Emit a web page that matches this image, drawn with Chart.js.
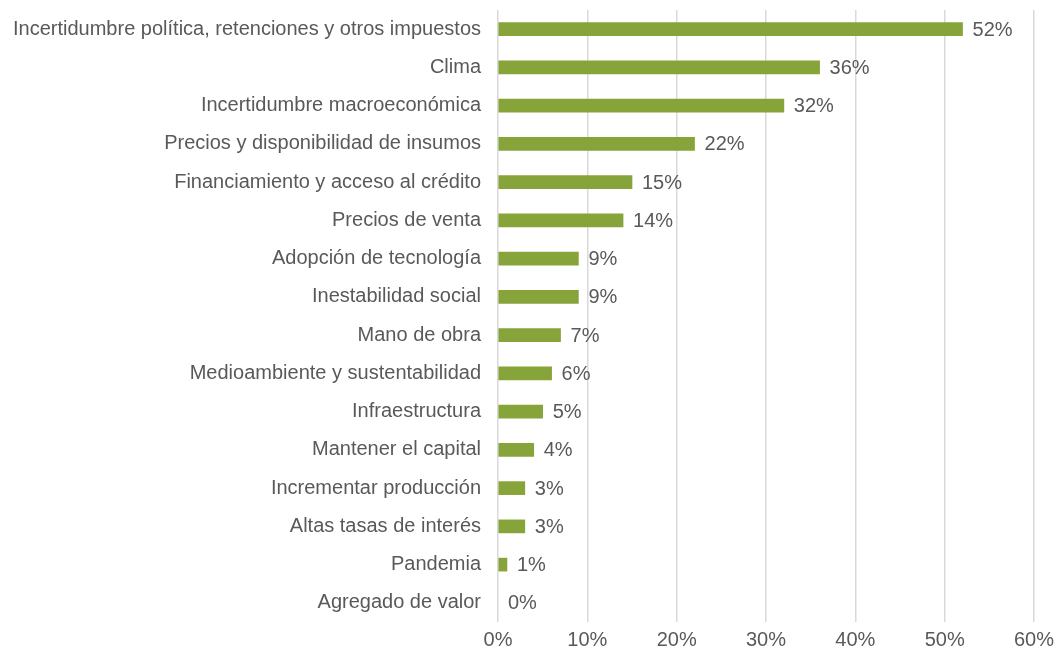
<!DOCTYPE html>
<html><head><meta charset="utf-8">
<script src="https://cdn.jsdelivr.net/npm/chart.js@4/dist/chart.umd.min.js"></script>
<style>html,body{margin:0;padding:0;background:#fff}#wrap{width:1058px;height:654px}</style>
</head><body><div id="wrap"><canvas id="c"></canvas></div>
<script>
const categories = [
  "Incertidumbre política, retenciones y otros impuestos",
  "Clima",
  "Incertidumbre macroeconómica",
  "Precios y disponibilidad de insumos",
  "Financiamiento y acceso al crédito",
  "Precios de venta",
  "Adopción de tecnología",
  "Inestabilidad social",
  "Mano de obra",
  "Medioambiente y sustentabilidad",
  "Infraestructura",
  "Mantener el capital",
  "Incrementar producción",
  "Altas tasas de interés",
  "Pandemia",
  "Agregado de valor"
];
const values = [52, 36, 32, 22, 15, 14, 9, 9, 7, 6, 5, 4, 3, 3, 1, 0];
const xTicks = [0, 10, 20, 30, 40, 50, 60];

const FONT = "'Liberation Sans', Arial, sans-serif";
const TXT = "#595959";
const GREEN = '#86a43a';

const labelPlugin = {
  id: 'endLabels',
  afterDatasetsDraw(chart) {
    const ctx = chart.ctx;
    const meta = chart.getDatasetMeta(0);
    ctx.save();
    ctx.font = "20px " + FONT;
    ctx.fillStyle = TXT;
    ctx.textAlign = 'left';
    ctx.textBaseline = 'middle';
    meta.data.forEach((bar, i) => {
      ctx.fillText(values[i] + '%', bar.x + 10, bar.y + 1);
    });
    ctx.restore();
  }
};

new Chart(document.getElementById('c'), {
  type: 'bar',
  data: {
    labels: categories,
    datasets: [{
      data: values,
      backgroundColor: c => (c.raw === 0 ? 'rgba(0,0,0,0)' : GREEN),
      barThickness: 13
    }]
  },
  options: {
    indexAxis: 'y',
    responsive: true,
    maintainAspectRatio: false,
    animation: false,
    devicePixelRatio: 1,
    layout: { padding: { top: 10, right: 0, left: 10, bottom: 0 } },
    plugins: { legend: { display: false }, tooltip: { enabled: false } },
    scales: {
      x: {
        min: 0, max: 60,
        afterBuildTicks(axis) { axis.ticks = xTicks.map(v => ({ value: v })); },
        afterFit(axis) { axis.height = 32; axis.paddingRight = 24; },
        ticks: { callback: v => v + '%', color: TXT, font: { family: FONT, size: 20 }, padding: 6 },
        grid: { color: '#d9d9d9', lineWidth: 1.5, drawTicks: false },
        border: { display: false }
      },
      y: {
        afterFit(axis) { axis.paddingTop = 0; axis.paddingBottom = 0; axis.width = 488; },
        ticks: { color: TXT, font: { family: FONT, size: 20 }, padding: 17, autoSkip: false },
        grid: { display: false, drawTicks: false },
        border: { display: false }
      }
    }
  },
  plugins: [labelPlugin]
});
</script></body></html>
